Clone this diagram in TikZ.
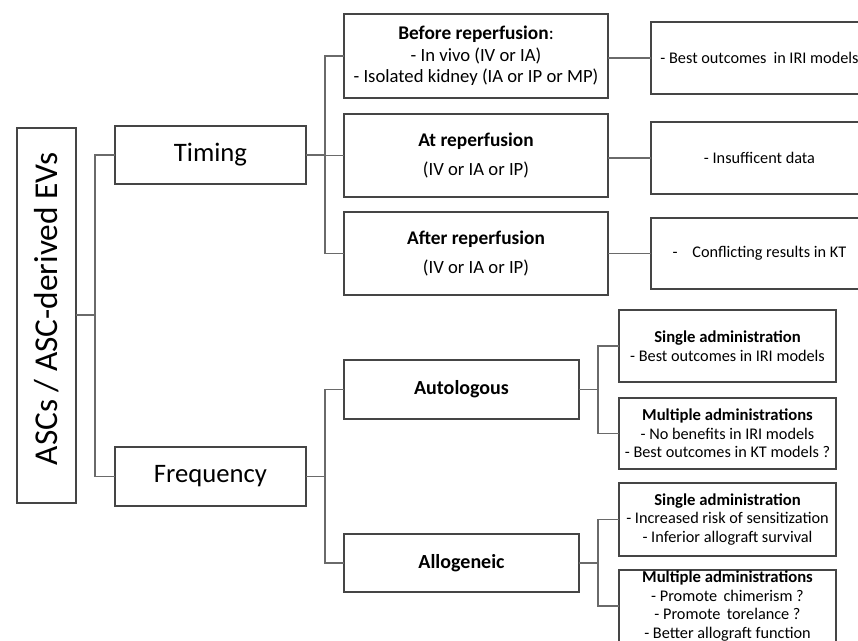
\documentclass[tikz,border=0pt]{standalone}
\usepackage{fontspec}
\setmainfont{Carlito}
\definecolor{boxline}{HTML}{454545}
\definecolor{conline}{HTML}{6A6A6A}
\tikzset{
  box/.style={draw=boxline, line width=0.8pt, inner sep=0pt, outer sep=0pt, align=center, text=black},
  conn/.style={draw=conline, line width=0.8pt},
  fRoot/.style={font=\fontsize{25}{30}\selectfont},
  fBig/.style={font=\fontsize{20}{24}\selectfont},
  fMid/.style={font=\fontsize{14}{16.1}\selectfont},
  fCat/.style={font=\fontsize{15}{18}\selectfont\bfseries},
  fRes/.style={font=\fontsize{12.2}{14.6}\selectfont},
  fAdm/.style={font=\fontsize{12.2}{13.9}\selectfont},
}
\begin{document}
\begin{tikzpicture}[x=0.75pt,y=-0.75pt]
\useasboundingbox (0,0) rectangle (858,640);

% root
\node[box, minimum width=44.25pt, minimum height=281.25pt] (root) at (46.5,315.5) {};
\node[fRoot, rotate=90] (roottxt) at (46.5,309) {ASCs / ASC-derived EVs};

% level 1
\node[box, fBig, minimum width=143.25pt, minimum height=43.5pt] (timing) at (210.5,155) {Timing};
\node[box, fBig, minimum width=143.25pt, minimum height=44.25pt] (freq) at (210.5,476.5) {Frequency};

% timing children
\node[box, fMid, minimum width=198pt, minimum height=63pt] (before) at (476,56)
  {{\fontsize{14.5}{16.1}\selectfont\bfseries Before reperfusion}:\\- In vivo (IV or IA)\\- Isolated kidney (IA or IP or MP)};
\node[box, fMid, minimum width=198pt, minimum height=62.25pt] (at) at (476,155.5)
  {{\fontsize{14.5}{16.1}\selectfont\bfseries At reperfusion}\\[5.5pt](IV or IA or IP)};
\node[box, fMid, minimum width=198pt, minimum height=62.25pt] (after) at (476,253.5)
  {{\fontsize{14.5}{16.1}\selectfont\bfseries After reperfusion}\\[5.5pt](IV or IA or IP)};

% results
\node[box, fRes, minimum width=162.75pt, minimum height=54pt] (res1) at (759.5,58)
  {- Best outcomes\hspace{2.5pt} in IRI models};
\node[box, fRes, minimum width=162.75pt, minimum height=54pt] (res2) at (759.5,158)
  {- Insufficent data};
\node[box, fRes, minimum width=162.75pt, minimum height=53.25pt] (res3) at (759.5,253.5)
  {-\hspace{11pt}Conflicting results in KT};

% frequency children
\node[box, fCat, minimum width=176.25pt, minimum height=44.25pt] (auto) at (461.5,389.5) {Autologous};
\node[box, fCat, minimum width=176.25pt, minimum height=43.5pt] (allo) at (461.5,563) {Allogeneic};

% administration boxes
\node[box, fAdm, minimum width=162.75pt, minimum height=54pt] (as1) at (727.5,346)
  {{\fontsize{12.5}{13.9}\selectfont\bfseries Single administration}\\- Best outcomes in IRI models};
\node[box, fAdm, minimum width=162.75pt, minimum height=53.25pt] (am1) at (727.5,433.5)
  {{\fontsize{12.5}{13.9}\selectfont\bfseries Multiple administrations}\\- No benefits in IRI models\\- Best outcomes in KT models ?};
\node[box, fAdm, minimum width=162.75pt, minimum height=54.75pt] (ls1) at (727.5,519.5)
  {{\fontsize{12.5}{13.9}\selectfont\bfseries Single administration}\\- Increased risk of sensitization\\- Inferior allograft survival};
\node[box, fAdm, minimum width=162.75pt, minimum height=54pt] (lm1) at (727.5,606)
  {{\fontsize{12.5}{13.9}\selectfont\bfseries Multiple administrations}\\- Promote\hspace{2pt} chimerism ?\\- Promote\hspace{2pt} torelance ?\\- Better allograft function};

% junctions
\coordinate (j0) at (95,315);
\coordinate (j1) at (325,155);
\coordinate (j2) at (325,476.5);
\coordinate (j3) at (598,389.5);
\coordinate (j4) at (598,563);

% connectors
\draw[conn] (root.east |- j0) -- (j0);
\draw[conn] (timing.west) -| (j0);
\draw[conn] (freq.west) -| (j0);

\draw[conn] (timing.east) -- (j1);
\draw[conn] (before.west) -| (j1);
\draw[conn] (at.west) -| (j1);
\draw[conn] (after.west) -| (j1);

\draw[conn] (res1.west) -- (res1.west -| before.east);
\draw[conn] (res2.west) -- (res2.west -| at.east);
\draw[conn] (res3.west) -- (res3.west -| after.east);

\draw[conn] (freq.east) -- (j2);
\draw[conn] (auto.west) -| (j2);
\draw[conn] (allo.west) -| (j2);

\draw[conn] (auto.east) -- (j3);
\draw[conn] (as1.west) -| (j3);
\draw[conn] (am1.west) -| (j3);

\draw[conn] (allo.east) -- (j4);
\draw[conn] (ls1.west) -| (j4);
\draw[conn] (lm1.west) -| (j4);
\end{tikzpicture}
\end{document}
